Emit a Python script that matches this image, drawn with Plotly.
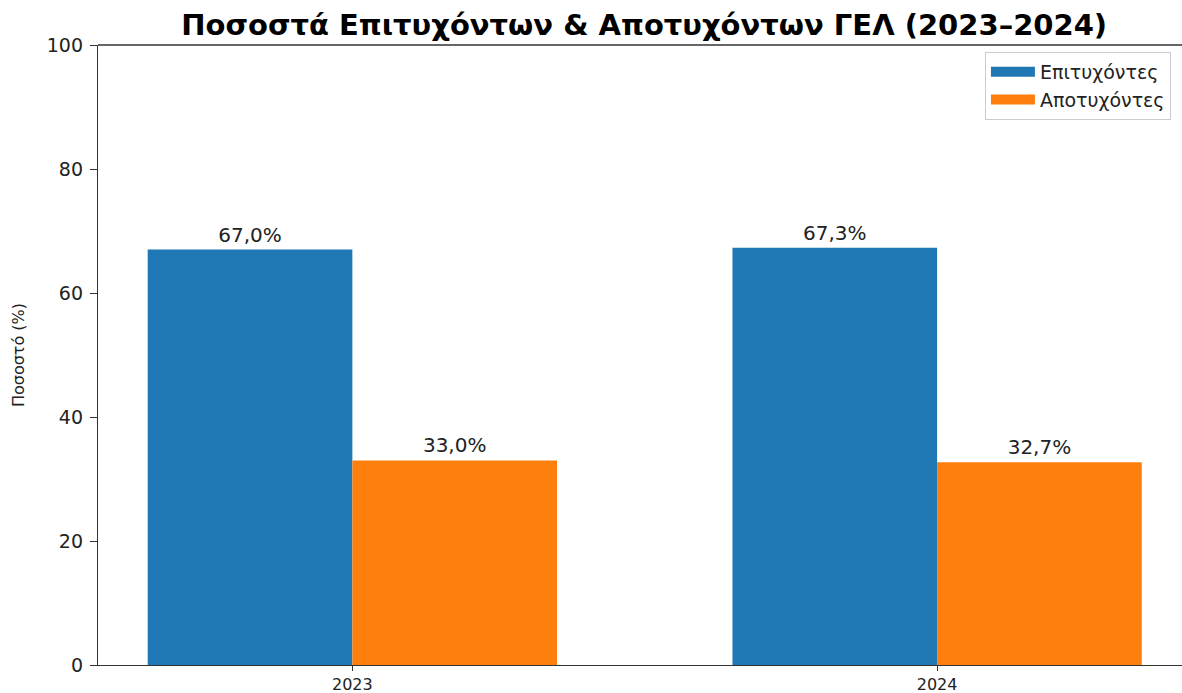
import plotly.graph_objects as go

years = ["2023", "2024"]
success = [67.0, 67.3]
failure = [33.0, 32.7]
series_names = ["Επιτυχόντες", "Αποτυχόντες"]
colors = ["#1f77b4", "#ff7f0e"]

fig = go.Figure()
for name, vals, col in zip(series_names, [success, failure], colors):
    fig.add_trace(go.Bar(
        x=years, y=vals, name=name, marker=dict(color=col, line=dict(width=0)),
        texttemplate="%{y:.1f}%", textposition="outside",
        textfont=dict(family="DejaVu Sans", size=20, color="#222"),
        cliponaxis=False, showlegend=False,
    ))
    # legend entry (wide colour patch like the reference)
    fig.add_trace(go.Scatter(
        x=[None], y=[None], mode="lines", name=name,
        line=dict(color=col, width=13), showlegend=True,
    ))

fig.update_layout(
    width=1182, height=693,
    margin=dict(l=98, r=0, t=45, b=28, autoexpand=False),
    plot_bgcolor="white", paper_bgcolor="white",
    separators=",.",
    barmode="group", bargap=0.3, bargroupgap=0,
    font=dict(family="DejaVu Sans", color="#222"),
    title=dict(text="<b>Ποσοστά Επιτυχόντων & Αποτυχόντων ΓΕΛ (2023–2024)</b>",
               x=0.545, xanchor="center", y=1 - 25 / 693, yanchor="middle",
               font=dict(family="DejaVu Sans", size=29, color="black")),
    legend=dict(x=0.9898, xanchor="right", y=0.9887, yanchor="top",
                bordercolor="#cccccc", borderwidth=1, bgcolor="white",
                font=dict(size=19, color="#222"), itemwidth=44,
                tracegroupgap=2),
    xaxis=dict(type="category", range=[-0.435, 1.4188], showgrid=False,
               automargin=False,
               showline=True, linecolor="#333", linewidth=1.3,
               ticks="outside", ticklen=5, tickcolor="#333",
               ticklabelstandoff=0,
               tickfont=dict(size=16, color="#222"), zeroline=False),
    yaxis=dict(range=[0, 100], dtick=20, showgrid=False, automargin=False,
               showline=True, linecolor="#333", linewidth=1.3,
               ticks="outside", ticklen=7, tickcolor="#333",
               ticklabelstandoff=3,
               tickfont=dict(size=19, color="#222"), zeroline=False,
               title=dict(text="Ποσοστό (%)", standoff=18,
                          font=dict(size=16, color="#222"))),
    shapes=[dict(type="line", xref="paper", yref="paper", x0=0, x1=1, y0=1, y1=1,
                 line=dict(color="#333", width=1.3))],
)

fig.write_html("out.html", config={"displayModeBar": False},
               post_script="document.body.style.margin='0px';document.body.style.overflow='hidden';")
